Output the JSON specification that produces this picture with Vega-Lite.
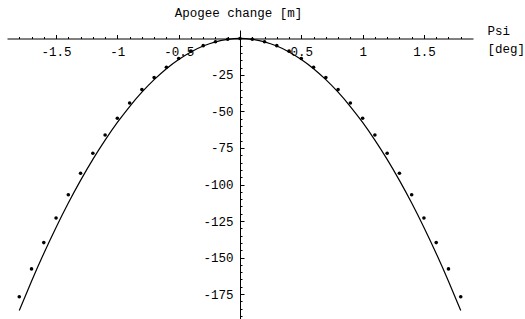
{
  "$schema": "https://vega.github.io/schema/vega-lite/v6.json",
  "width": 466,
  "height": 289,
  "autosize": "none",
  "padding": {"left": 7, "top": 30, "right": 52, "bottom": 0},
  "background": "white",
  "config": {"view": {"stroke": null}, "font": "Liberation Mono"},
  "datasets": {
    "points": [
      {"psi": -1.8, "apogee": -176.9}, {"psi": -1.7, "apogee": -157.8}, {"psi": -1.6, "apogee": -139.8},
      {"psi": -1.5, "apogee": -122.9}, {"psi": -1.4, "apogee": -107.0}, {"psi": -1.3, "apogee": -92.3},
      {"psi": -1.2, "apogee": -78.6}, {"psi": -1.1, "apogee": -66.1}, {"psi": -1.0, "apogee": -54.6},
      {"psi": -0.9, "apogee": -44.2}, {"psi": -0.8, "apogee": -34.9}, {"psi": -0.7, "apogee": -26.8},
      {"psi": -0.6, "apogee": -19.7}, {"psi": -0.5, "apogee": -13.7}, {"psi": -0.4, "apogee": -8.7},
      {"psi": -0.3, "apogee": -4.9}, {"psi": -0.2, "apogee": -2.2}, {"psi": -0.1, "apogee": -0.5},
      {"psi": 0.0, "apogee": 0.0},
      {"psi": 0.1, "apogee": -0.5}, {"psi": 0.2, "apogee": -2.2}, {"psi": 0.3, "apogee": -4.9},
      {"psi": 0.4, "apogee": -8.7}, {"psi": 0.5, "apogee": -13.7}, {"psi": 0.6, "apogee": -19.7},
      {"psi": 0.7, "apogee": -26.8}, {"psi": 0.8, "apogee": -34.9}, {"psi": 0.9, "apogee": -44.2},
      {"psi": 1.0, "apogee": -54.6}, {"psi": 1.1, "apogee": -66.1}, {"psi": 1.2, "apogee": -78.6},
      {"psi": 1.3, "apogee": -92.3}, {"psi": 1.4, "apogee": -107.0}, {"psi": 1.5, "apogee": -122.9},
      {"psi": 1.6, "apogee": -139.8}, {"psi": 1.7, "apogee": -157.8}, {"psi": 1.8, "apogee": -176.9}
    ],
    "fit": [
      {"psi": -1.8, "apogee": -186.3}, {"psi": -1.7, "apogee": -166.2}, {"psi": -1.6, "apogee": -147.2},
      {"psi": -1.5, "apogee": -129.4}, {"psi": -1.4, "apogee": -112.7}, {"psi": -1.3, "apogee": -97.2},
      {"psi": -1.2, "apogee": -82.8}, {"psi": -1.1, "apogee": -69.6}, {"psi": -1.0, "apogee": -57.5},
      {"psi": -0.9, "apogee": -46.6}, {"psi": -0.8, "apogee": -36.8}, {"psi": -0.7, "apogee": -28.2},
      {"psi": -0.6, "apogee": -20.7}, {"psi": -0.5, "apogee": -14.4}, {"psi": -0.4, "apogee": -9.2},
      {"psi": -0.3, "apogee": -5.2}, {"psi": -0.2, "apogee": -2.3}, {"psi": -0.1, "apogee": -0.58},
      {"psi": 0.0, "apogee": 0.0},
      {"psi": 0.1, "apogee": -0.58}, {"psi": 0.2, "apogee": -2.3}, {"psi": 0.3, "apogee": -5.2},
      {"psi": 0.4, "apogee": -9.2}, {"psi": 0.5, "apogee": -14.4}, {"psi": 0.6, "apogee": -20.7},
      {"psi": 0.7, "apogee": -28.2}, {"psi": 0.8, "apogee": -36.8}, {"psi": 0.9, "apogee": -46.6},
      {"psi": 1.0, "apogee": -57.5}, {"psi": 1.1, "apogee": -69.6}, {"psi": 1.2, "apogee": -82.8},
      {"psi": 1.3, "apogee": -97.2}, {"psi": 1.4, "apogee": -112.7}, {"psi": 1.5, "apogee": -129.4},
      {"psi": 1.6, "apogee": -147.2}, {"psi": 1.7, "apogee": -166.2}, {"psi": 1.8, "apogee": -186.3}
    ]
  },
  "encoding": {
    "x": {
      "field": "psi",
      "type": "quantitative",
      "scale": {"domain": [-1.9, 1.9], "nice": false, "zero": false},
      "axis": {
        "orient": "top",
        "offset": -8.5,
        "values": [-1.8, -1.7, -1.6, -1.5, -1.4, -1.3, -1.2, -1.1, -1, -0.9, -0.8, -0.7, -0.6, -0.5, -0.4, -0.3, -0.2, -0.1, 0.1, 0.2, 0.3, 0.4, 0.5, 0.6, 0.7, 0.8, 0.9, 1, 1.1, 1.2, 1.3, 1.4, 1.5, 1.6, 1.7, 1.8],
        "grid": false,
        "domain": true,
        "domainColor": "black",
        "domainWidth": 1,
        "ticks": true,
        "tickColor": "black",
        "tickWidth": 1,
        "tickSize": {"condition": {"test": "abs(datum.value*2 - round(datum.value*2)) < 0.000001", "value": 4}, "value": 2},
        "labelExpr": "abs(datum.value*2 - round(datum.value*2)) < 0.000001 ? '' + datum.value : ''",
        "labelFont": "Liberation Mono",
        "labelFontSize": 12.5,
        "labelColor": "black",
        "labelAlign": "center",
        "labelBaseline": "middle",
        "labelPadding": -16.5,
        "labelOverlap": false,
        "labelBound": false,
        "labelFlush": false,
        "title": ["Psi", "[deg]"],
        "titleX": 480,
        "titleY": -14,
        "titleAlign": "left",
        "titleBaseline": "top",
        "titleAngle": 0,
        "titleFont": "Liberation Mono",
        "titleFontSize": 12.5,
        "titleFontWeight": "normal",
        "titleLineHeight": 18,
        "titleColor": "black"
      }
    },
    "y": {
      "field": "apogee",
      "type": "quantitative",
      "scale": {"domain": [-192.1, 5.8], "nice": false, "zero": false},
      "axis": {
        "orient": "right",
        "offset": -233,
        "values": [-5, -10, -15, -20, -25, -30, -35, -40, -45, -50, -55, -60, -65, -70, -75, -80, -85, -90, -95, -100, -105, -110, -115, -120, -125, -130, -135, -140, -145, -150, -155, -160, -165, -170, -175, -180, -185, -190],
        "grid": false,
        "domain": true,
        "domainColor": "black",
        "domainWidth": 1,
        "ticks": true,
        "tickColor": "black",
        "tickWidth": 1,
        "tickSize": {"condition": {"test": "datum.value % 25 == 0", "value": 4}, "value": 2},
        "labelExpr": "datum.value % 25 == 0 ? '' + datum.value : ''",
        "labelFont": "Liberation Mono",
        "labelFontSize": 12.5,
        "labelColor": "black",
        "labelAlign": "right",
        "labelBaseline": "middle",
        "labelPadding": -11,
        "labelOverlap": false,
        "labelBound": false,
        "labelFlush": false,
        "title": "Apogee change [m]",
        "titleX": -2,
        "titleY": -18,
        "titleAlign": "center",
        "titleBaseline": "middle",
        "titleAngle": 0,
        "titleFont": "Liberation Mono",
        "titleFontSize": 12.5,
        "titleFontWeight": "normal",
        "titleColor": "black"
      }
    }
  },
  "layer": [
    {
      "data": {"name": "fit"},
      "mark": {"type": "line", "color": "black", "strokeWidth": 1.2, "interpolate": "natural"}
    },
    {
      "data": {"name": "points"},
      "mark": {"type": "circle", "color": "black", "size": 13, "opacity": 1}
    }
  ]
}
